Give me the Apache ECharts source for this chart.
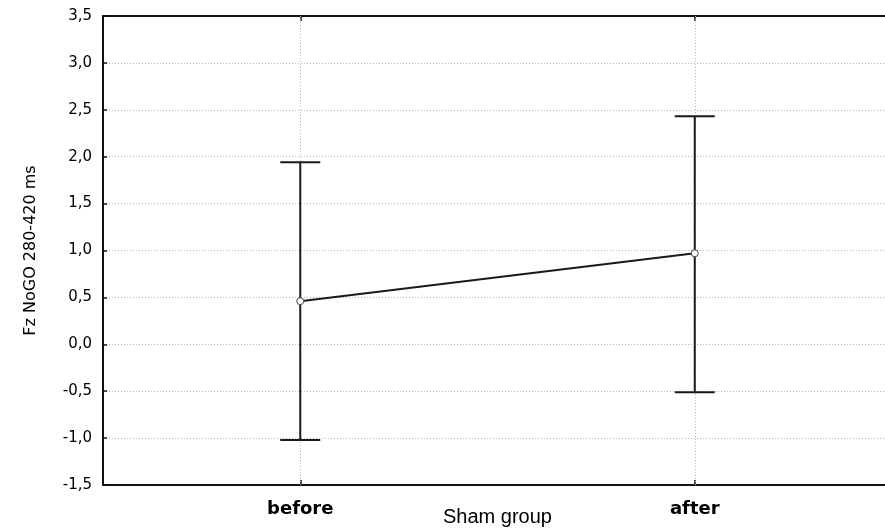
<!DOCTYPE html>
<html><head><meta charset="utf-8">
<script src="https://cdn.jsdelivr.net/npm/echarts@6/dist/echarts.min.js"></script>
<style>html,body{margin:0;padding:0;background:#fff}#c{width:885px;height:531px}</style>
</head><body><div id="c"></div>
<script>
var categories = ['before', 'after'];
var means = [0.46, 0.97];
var lower = [-1.02, -0.51];
var upper = [1.94, 2.43];

var chart = echarts.init(document.getElementById('c'));
var errData = categories.map(function (c, i) { return [i, lower[i], upper[i]]; });
var fmt = function (v) { return v.toFixed(1).replace('.', ','); };
var gridLine = { color: '#b4b4b4', type: [1, 2], width: 1 };

chart.setOption({
  animation: false,
  grid: { left: 103, top: 16, right: -7, bottom: 46, outerBoundsMode: 'none', containLabel: false },
  xAxis: [{
    type: 'category', data: categories, position: 'bottom',
    name: 'Sham group', nameLocation: 'middle', nameGap: 22, nameMoveOverlap: false,
    nameTextStyle: { fontFamily: 'Liberation Sans', fontSize: 20, color: '#000' },
    axisLine: { onZero: false, lineStyle: { color: '#111', width: 2 } },
    axisTick: { show: true, inside: true, alignWithLabel: true, length: 5, lineStyle: { color: '#111', width: 1.5 } },
    axisLabel: { margin: 15, fontFamily: 'DejaVu Sans', fontWeight: 'bold', fontSize: 18, color: '#000' },
    splitLine: { show: false }
  }, {
    type: 'category', data: categories, position: 'top',
    axisLine: { onZero: false, lineStyle: { color: '#111', width: 2 } },
    axisTick: { show: true, inside: true, alignWithLabel: true, length: 5, lineStyle: { color: '#111', width: 1.5 } },
    axisLabel: { show: false }, splitLine: { show: false }
  }],
  yAxis: {
    type: 'value', min: -1.5, max: 3.5, interval: 0.5,
    name: 'Fz NoGO 280-420 ms', nameLocation: 'middle', nameGap: 64, nameMoveOverlap: false,
    nameTextStyle: { fontFamily: 'DejaVu Sans', fontSize: 16, color: '#000' },
    axisLine: { show: true, onZero: false, lineStyle: { color: '#111', width: 2 } },
    axisTick: { show: true, inside: true, length: 4, lineStyle: { color: '#111', width: 1.5 } },
    axisLabel: { margin: 11, fontFamily: 'DejaVu Sans', fontSize: 15, color: '#000', formatter: fmt },
    splitLine: { show: true, lineStyle: gridLine }
  },
  series: [{
    type: 'line', data: means, xAxisIndex: 0, z: 1,
    showSymbol: false, lineStyle: { opacity: 0 }, silent: true,
    markLine: {
      silent: true, symbol: 'none', label: { show: false }, z: 1,
      lineStyle: gridLine,
      data: categories.map(function (c) { return { xAxis: c }; })
    }
  }, {
    type: 'custom', xAxisIndex: 0, data: errData, z: 4,
    renderItem: function (params, api) {
      var x = api.coord([api.value(0), api.value(1)])[0];
      var yl = api.coord([api.value(0), api.value(1)])[1];
      var yh = api.coord([api.value(0), api.value(2)])[1];
      var hw = 20;
      var st = { stroke: '#1a1a1a', lineWidth: 2 };
      return { type: 'group', children: [
        { type: 'line', shape: { x1: x, y1: yl, x2: x, y2: yh }, style: st },
        { type: 'line', shape: { x1: x - hw, y1: yl, x2: x + hw, y2: yl }, style: st },
        { type: 'line', shape: { x1: x - hw, y1: yh, x2: x + hw, y2: yh }, style: st }
      ] };
    }
  }, {
    type: 'line', data: means, xAxisIndex: 0, z: 6,
    symbol: 'circle', symbolSize: 7,
    itemStyle: { color: '#fff', borderColor: '#444', borderWidth: 1 },
    lineStyle: { color: '#1a1a1a', width: 2 }
  }]
});
</script></body></html>
